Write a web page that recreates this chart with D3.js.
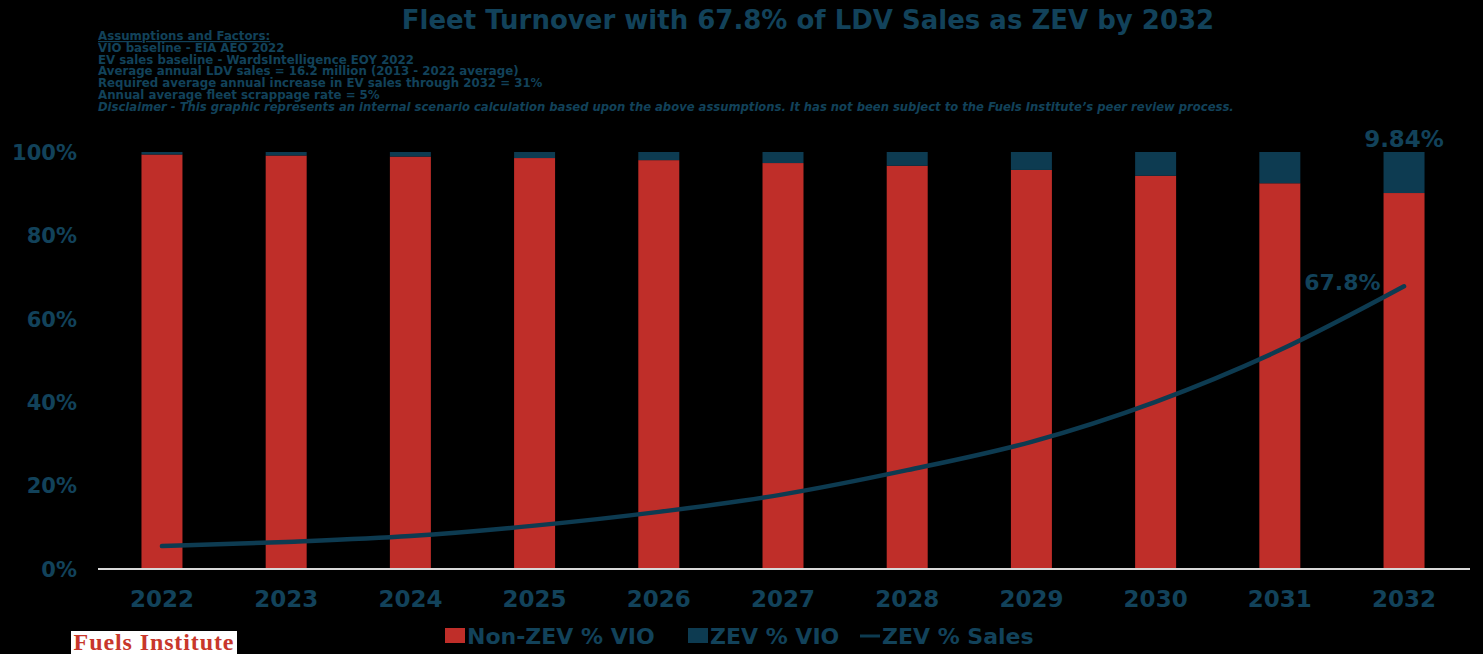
<!DOCTYPE html>
<html>
<head>
<meta charset="utf-8">
<script src="https://cdn.jsdelivr.net/npm/d3@7"></script>
<style>
  body { margin: 0; background: #000; }
  svg { display: block; }
</style>
</head>
<body>
<div id="chart"></div>
<script>
// chart values
const years = ["2022", "2023", "2024", "2025", "2026", "2027", "2028", "2029", "2030", "2031", "2032"];
const zevVio = [0.6, 0.85, 1.1, 1.45, 1.95, 2.65, 3.3, 4.3, 5.7, 7.5, 9.84];
const nonZevVio = zevVio.map(v => 100 - v);
const zevSales = [5.5, 6.5, 7.9, 10.4, 13.7, 17.9, 23.7, 30.5, 40.1, 52.5, 67.8];
const yTicks = [0, 20, 40, 60, 80, 100];
const notes = [
  "VIO baseline - EIA AEO 2022",
  "EV sales baseline - WardsIntelligence EOY 2022",
  "Average annual LDV sales = 16.2 million (2013 - 2022 average)",
  "Required average annual increase in EV sales through 2032 = 31%",
  "Annual average fleet scrappage rate = 5%"
];
const disclaimer = "Disclaimer - This graphic represents an internal scenario calculation based upon the above assumptions.  It has not been subject to the Fuels Institute\u2019s peer review process.";

const W = 1483, H = 654;
const red = "#bf2e29", navy = "#0d3b51", txt = "#12425a";
const font = "'DejaVu Sans', Verdana, sans-serif";

const svg = d3.select("#chart").append("svg")
  .attr("width", W).attr("height", H)
  .style("background", "#000");

const x = d3.scaleBand()
  .domain(years)
  .range([98, 1468])
  .paddingInner(0.67)
  .paddingOuter(0.35);

const y = d3.scaleLinear()
  .domain([0, 100])
  .range([569, 152]);

// title
svg.append("text")
  .attr("x", 808).attr("y", 29)
  .attr("text-anchor", "middle")
  .style("font-family", font).style("font-weight", 700)
  .style("font-size", "26px").style("fill", txt)
  .text("Fleet Turnover with 67.8% of LDV Sales as ZEV by 2032");

// assumption notes
const nt = svg.append("g")
  .style("font-family", font).style("font-weight", 700)
  .style("font-size", "11.8px").style("fill", txt);
nt.append("text").attr("x", 98).attr("y", 40)
  .style("text-decoration", "underline")
  .text("Assumptions and Factors:");
notes.forEach((n, i) => {
  nt.append("text").attr("x", 98).attr("y", 52 + i * 11.7).text(n);
});
nt.append("text").attr("x", 98).attr("y", 52 + notes.length * 11.7)
  .style("font-style", "italic").style("font-size", "11.6px").text(disclaimer);

// y axis
const yAxis = svg.append("g")
  .attr("transform", "translate(80,0)")
  .call(d3.axisLeft(y).tickValues(yTicks).tickFormat(d => d + "%").tickSize(0));
yAxis.select(".domain").remove();
yAxis.selectAll("text")
  .attr("dy", "0.35em")
  .style("font-family", font).style("font-weight", 700)
  .style("font-size", "21px").style("fill", txt);

// bars
svg.append("g").selectAll("rect.non")
  .data(years).join("rect")
  .attr("x", d => x(d))
  .attr("width", x.bandwidth())
  .attr("y", (d, i) => y(nonZevVio[i]))
  .attr("height", (d, i) => y(0) - y(nonZevVio[i]))
  .attr("fill", red);

svg.append("g").selectAll("rect.zev")
  .data(years).join("rect")
  .attr("x", d => x(d))
  .attr("width", x.bandwidth())
  .attr("y", y(100))
  .attr("height", (d, i) => y(nonZevVio[i]) - y(100))
  .attr("fill", navy);

// x axis
const xAxis = svg.append("g")
  .attr("transform", "translate(0,569)")
  .call(d3.axisBottom(x).tickSize(0).tickPadding(22));
xAxis.select(".domain")
  .attr("d", "M98,0H1470")
  .attr("stroke", "#d9d9d9").attr("stroke-width", 2);
xAxis.selectAll("text")
  .style("font-family", font).style("font-weight", 700)
  .style("font-size", "23px").style("fill", txt);

// line
const line = d3.line()
  .x((d, i) => x(years[i]) + x.bandwidth() / 2)
  .y(d => y(d))
  .curve(d3.curveMonotoneX);
svg.append("path")
  .datum(zevSales)
  .attr("d", line)
  .attr("fill", "none")
  .attr("stroke", navy)
  .attr("stroke-width", 4.5)
  .attr("stroke-linecap", "round");

// data labels
const last = years.length - 1;
svg.append("text")
  .attr("x", x(years[last]) + x.bandwidth() / 2).attr("y", 147)
  .attr("text-anchor", "middle")
  .style("font-family", font).style("font-weight", 700)
  .style("font-size", "23px").style("fill", txt)
  .text(zevVio[last] + "%");
svg.append("text")
  .attr("x", x(years[last]) - 3).attr("y", y(zevSales[last]) + 4)
  .attr("text-anchor", "end")
  .style("font-family", font).style("font-weight", 700)
  .style("font-size", "22px").style("fill", txt)
  .text(zevSales[last] + "%");

// legend
const legend = [
  { label: "Non-ZEV % VIO", color: red, type: "rect", x: 445 },
  { label: "ZEV % VIO", color: navy, type: "rect", x: 688 },
  { label: "ZEV % Sales", color: navy, type: "line", x: 860 }
];
const lg = svg.append("g");
legend.forEach(l => {
  if (l.type === "rect") {
    lg.append("rect").attr("x", l.x).attr("y", 628).attr("width", 20).attr("height", 15).attr("fill", l.color);
  } else {
    lg.append("line").attr("x1", l.x).attr("x2", l.x + 20).attr("y1", 636).attr("y2", 636)
      .attr("stroke", l.color).attr("stroke-width", 3);
  }
  lg.append("text").attr("x", l.x + 22).attr("y", 644)
    .style("font-family", font).style("font-weight", 700)
    .style("font-size", "22px").style("fill", txt)
    .text(l.label);
});

// logo
svg.append("rect").attr("x", 71).attr("y", 631).attr("width", 166).attr("height", 23).attr("fill", "#fff");
svg.append("text")
  .attr("x", 154).attr("y", 650)
  .attr("text-anchor", "middle")
  .style("font-family", "'Liberation Serif', 'DejaVu Serif', serif").style("font-weight", 700)
  .style("font-size", "24px").style("letter-spacing", "0.9px").style("fill", "#c8372b")
  .text("Fuels Institute");
</script>
</body>
</html>
